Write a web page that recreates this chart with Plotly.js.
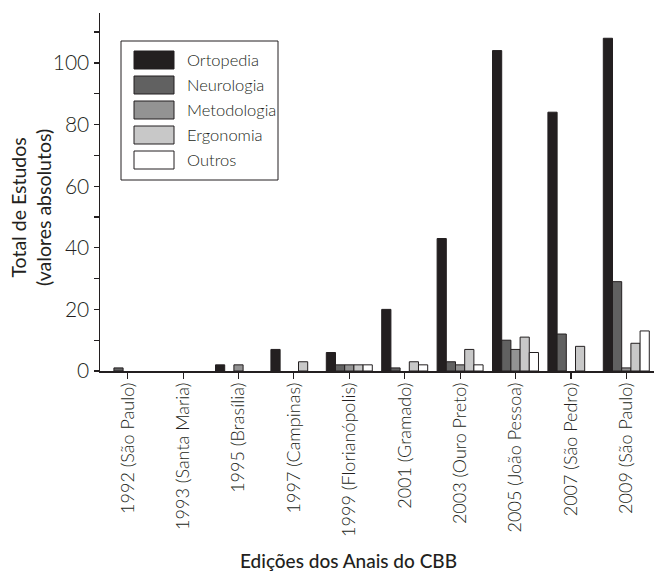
<!DOCTYPE html>
<html>
<head>
<meta charset="utf-8">
<script src="https://cdn.plot.ly/plotly-3.0.1.min.js"></script>
<style>html,body{margin:0;padding:0;background:#fff;}#chart{width:654px;height:572px;}</style>
</head>
<body>
<div id="chart"></div>
<script>
// ---- data ----
const categories = ["1992 (São Paulo)", "1993 (Santa Maria)", "1995 (Brasília)", "1997 (Campinas)",
  "1999 (Florianópolis)", "2001 (Gramado)", "2003 (Ouro Preto)", "2005 (João Pessoa)",
  "2007 (São Pedro)", "2009 (São Paulo)"];
const seriesNames = ["Ortopedia", "Neurologia", "Metodologia", "Ergonomia", "Outros"];
const ortopedia   = [0, 0, 2, 7, 6, 20, 43, 104, 84, 108];
const neurologia  = [1, 0, 0, 0, 2, 1, 3, 10, 12, 29];
const metodologia = [0, 0, 2, 0, 2, 0, 2, 7, 0, 1];
const ergonomia   = [0, 0, 0, 3, 2, 3, 7, 11, 8, 9];
const outros      = [0, 0, 0, 0, 2, 2, 2, 6, 0, 13];
const yTickVals = [0, 20, 40, 60, 80, 100];

// ---- styles ----
const seriesValues = [ortopedia, neurologia, metodologia, ergonomia, outros];
const colors = ["#231f20", "#616161", "#939393", "#c8c8c8", "#ffffff"];
const W = 654, H = 572, ML = 100, MR = 0, MT = 13, MB = 201;
const PW = W - ML - MR, PH = H - MT - MB;
const px = x => (x - ML) / PW;
const py = y => (H - MB - y) / PH;

const traces = seriesNames.map((name, i) => ({
  type: "bar",
  name: name,
  x: categories,
  // zero counts are not drawn as bars in the original
  y: seriesValues[i].map(v => (v === 0 ? null : v)),
  marker: {color: colors[i], line: {color: "#231f20", width: 1}},
  showlegend: false,
  hoverinfo: "x+y+name"
}));

const shapes = [];
const annotations = [];
// legend box
shapes.push({type: "rect", xref: "paper", yref: "paper",
  x0: px(121), x1: px(278), y0: py(41), y1: py(180),
  line: {color: "#231f20", width: 1}, fillcolor: "#ffffff", layer: "above"});
seriesNames.forEach((name, i) => {
  const cy = 60 + 25 * i;
  shapes.push({type: "rect", xref: "paper", yref: "paper",
    x0: px(134), x1: px(174), y0: py(cy - 9), y1: py(cy + 9),
    line: {color: "#231f20", width: 1}, fillcolor: colors[i], layer: "above"});
  annotations.push({xref: "paper", yref: "paper", x: px(185), y: py(cy),
    xanchor: "left", yanchor: "middle", showarrow: false, text: name,
    font: {family: "Lato", size: 16.5, weight: 300, color: "#231f20"}});
});
// axis titles
annotations.push({xref: "paper", yref: "paper", x: px(31), y: py(208),
  xanchor: "center", yanchor: "middle", showarrow: false, textangle: -90,
  text: "Total de Estudos<br>(valores absolutos)",
  font: {family: "Lato", size: 19.5, color: "#231f20"}});
annotations.push({xref: "paper", yref: "paper", x: px(348), y: py(560),
  xanchor: "center", yanchor: "middle", showarrow: false,
  text: "Edições dos Anais do CBB",
  font: {family: "Lato", size: 19, weight: 500, color: "#231f20"}});

const layout = {
  width: W, height: H,
  margin: {l: ML, r: MR, t: MT, b: MB, pad: 0},
  paper_bgcolor: "#ffffff", plot_bgcolor: "#ffffff",
  barmode: "group", bargap: 0.17, bargroupgap: 0,
  font: {family: "Lato", color: "#231f20"},
  xaxis: {
    type: "category", range: [-0.5, 9.5], automargin: false,
    showline: true, linecolor: "#231f20", linewidth: 1.5,
    ticks: "outside", ticklen: 6, tickwidth: 1.2, tickcolor: "#231f20",
    ticklabelstandoff: -3,
    tickangle: -90, tickfont: {family: "Lato", size: 18, weight: 300, color: "#231f20"},
    showgrid: false, zeroline: false, fixedrange: true
  },
  yaxis: {
    range: [0, 116.2], automargin: false,
    showline: true, linecolor: "#231f20", linewidth: 1.5,
    tickmode: "array", tickvals: yTickVals, ticktext: yTickVals.map(String),
    ticks: "outside", ticklen: 5, tickwidth: 1.2, tickcolor: "#231f20",
    minor: {tickmode: "linear", tick0: 10, dtick: 20, ticks: "outside", ticklen: 5, tickwidth: 1.2, tickcolor: "#231f20", showgrid: false},
    tickfont: {family: "Lato", size: 21, weight: 300, color: "#231f20"},
    showgrid: false, zeroline: false, fixedrange: true
  },
  shapes: shapes,
  annotations: annotations
};

Plotly.newPlot("chart", traces, layout, {displayModeBar: false, staticPlot: true});
</script>
</body>
</html>
